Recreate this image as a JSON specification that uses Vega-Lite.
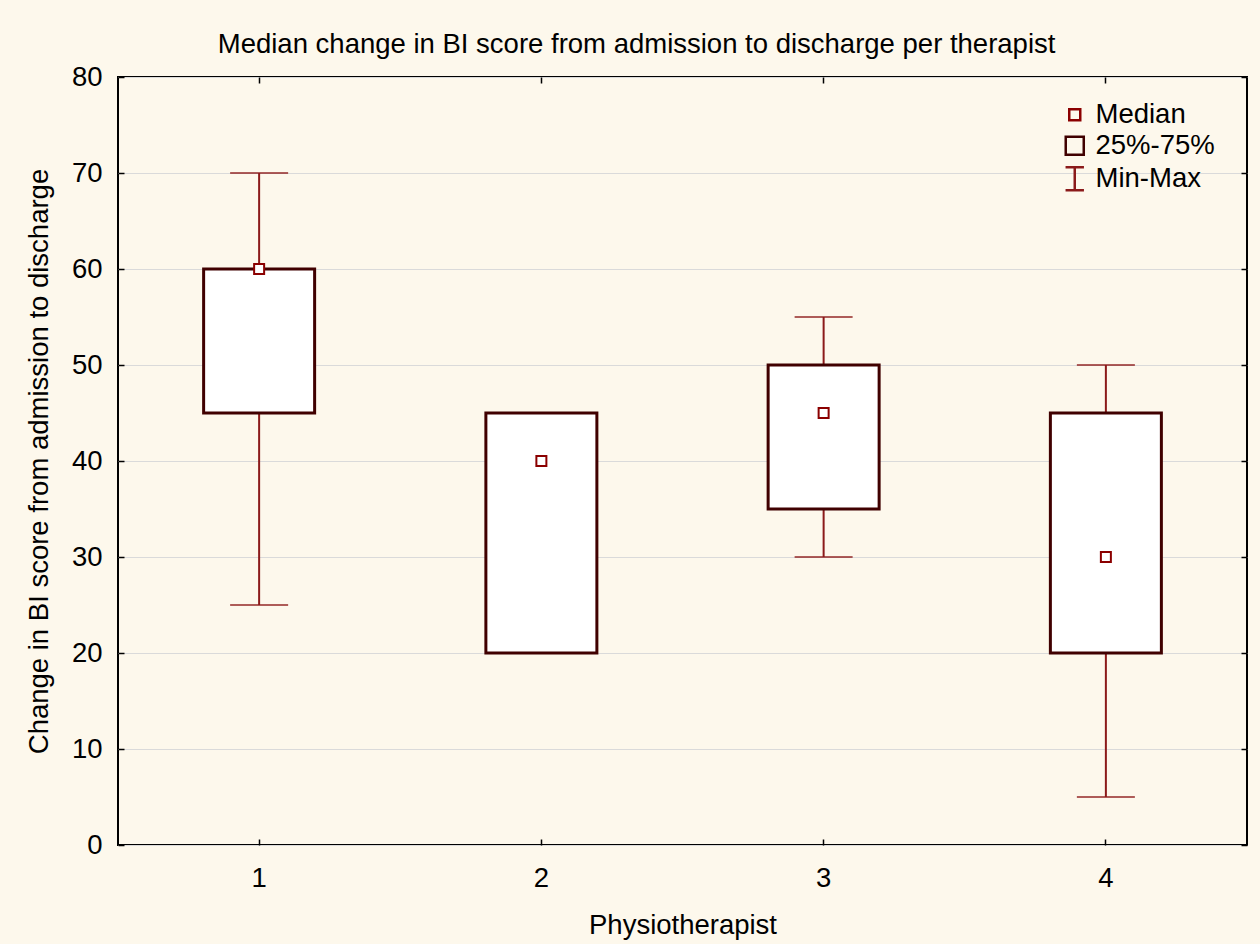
{
  "$schema": "https://vega.github.io/schema/vega-lite/v6.json",
  "width": 1129,
  "height": 768,
  "autosize": "none",
  "padding": {"left": 118, "top": 77, "right": 13, "bottom": 99},
  "background": "#fdf8ec",
  "title": {
    "text": "Median change in BI score from admission to discharge per therapist",
    "font": "Liberation Sans",
    "fontSize": 27.5,
    "fontWeight": "normal",
    "color": "black",
    "anchor": "middle",
    "frame": "bounds",
    "offset": 5
  },
  "config": {
    "view": {"stroke": "black", "strokeWidth": 2, "fill": "white"},
    "axis": {
      "labelFont": "Liberation Sans",
      "labelFontSize": 27.5,
      "labelColor": "black",
      "titleFont": "Liberation Sans",
      "titleFontSize": 27.5,
      "titleFontWeight": "normal",
      "titleColor": "black",
      "domain": false,
      "tickColor": "black",
      "tickWidth": 1.5
    },
    "legend": {
      "labelFont": "Liberation Sans",
      "labelFontSize": 27.5,
      "labelColor": "black"
    }
  },
  "datasets": {
    "stats": [
      {"physio": "1", "min": 25, "q1": 45, "median": 60, "q3": 60, "max": 70},
      {"physio": "2", "min": 20, "q1": 20, "median": 40, "q3": 45, "max": 45},
      {"physio": "3", "min": 30, "q1": 35, "median": 45, "q3": 50, "max": 55},
      {"physio": "4", "min": 5, "q1": 20, "median": 30, "q3": 45, "max": 50}
    ],
    "legendItems": [
      {"item": "Median"},
      {"item": "25%-75%"},
      {"item": "Min-Max"}
    ]
  },
  "resolve": {"axis": {"x": "independent", "y": "independent"}},
  "layer": [
    {
      "data": {"name": "stats"},
      "mark": {"type": "rule", "color": "#8b1a1a", "strokeWidth": 2},
      "encoding": {
        "x": {
          "field": "physio", "type": "ordinal",
          "scale": {"paddingInner": 0, "paddingOuter": 0},
          "axis": {"orient": "bottom", "title": "Physiotherapist", "labelAngle": 0, "labelPadding": 25, "tickSize": -6, "titlePadding": 20, "grid": false}
        },
        "y": {
          "field": "min", "type": "quantitative",
          "scale": {"domain": [0, 80], "nice": false, "zero": true},
          "axis": {"orient": "left", "title": "Change in BI score from admission to discharge", "values": [0, 10, 20, 30, 40, 50, 60, 70, 80], "grid": true, "gridColor": "#dadada", "gridWidth": 1, "tickSize": -6, "labelPadding": 22, "titlePadding": 18}
        },
        "y2": {"field": "max"}
      }
    },
    {
      "data": {"name": "stats"},
      "mark": {"type": "tick", "color": "#8b1a1a", "size": 58, "thickness": 2},
      "encoding": {
        "x": {"field": "physio", "type": "ordinal", "axis": {"orient": "top", "labels": false, "title": null, "tickSize": -6, "grid": false}},
        "y": {"field": "min", "type": "quantitative", "axis": {"orient": "right", "labels": false, "title": null, "values": [0, 10, 20, 30, 40, 50, 60, 70, 80], "tickSize": -6, "grid": false}}
      }
    },
    {
      "data": {"name": "stats"},
      "mark": {"type": "tick", "color": "#8b1a1a", "size": 58, "thickness": 2},
      "encoding": {
        "x": {"field": "physio", "type": "ordinal", "axis": null},
        "y": {"field": "max", "type": "quantitative", "axis": null}
      }
    },
    {
      "data": {"name": "stats"},
      "mark": {"type": "bar", "size": 111, "fill": "white", "stroke": "#400000", "strokeWidth": 3},
      "encoding": {
        "x": {"field": "physio", "type": "ordinal", "axis": null},
        "y": {"field": "q1", "type": "quantitative", "axis": null},
        "y2": {"field": "q3"}
      }
    },
    {
      "data": {"name": "stats"},
      "mark": {"type": "point", "shape": "square", "size": 100, "filled": false, "fill": "white", "fillOpacity": 1, "stroke": "#8b0000", "strokeWidth": 2, "opacity": 1},
      "encoding": {
        "x": {"field": "physio", "type": "ordinal", "axis": null},
        "y": {"field": "median", "type": "quantitative", "axis": null}
      }
    },
    {
      "data": {"name": "legendItems"},
      "mark": {"type": "point", "opacity": 0, "filled": true, "strokeWidth": 2},
      "encoding": {
        "shape": {
          "field": "item", "type": "nominal",
          "scale": {"domain": ["Median", "25%-75%", "Min-Max"], "range": ["square", "square", "M-0.8,-1L0.8,-1M0,-1L0,1M-0.8,1L0.8,1"]},
          "legend": {"title": null, "orient": "none", "legendX": 943, "legendY": 24, "symbolOpacity": 1, "symbolStrokeWidth": 2.5, "rowPadding": 2, "labelOffset": 7}
        },
        "size": {
          "field": "item", "type": "nominal",
          "scale": {"domain": ["Median", "25%-75%", "Min-Max"], "range": [121, 529, 729]},
          "legend": {"title": null}
        },
        "stroke": {
          "field": "item", "type": "nominal",
          "scale": {"domain": ["Median", "25%-75%", "Min-Max"], "range": ["#8b0000", "#400000", "#8b1a1a"]},
          "legend": {"title": null}
        },
        "fill": {
          "field": "item", "type": "nominal",
          "scale": {"domain": ["Median", "25%-75%", "Min-Max"], "range": ["white", "#fdf8ec", "white"]},
          "legend": {"title": null}
        }
      }
    }
  ]
}
